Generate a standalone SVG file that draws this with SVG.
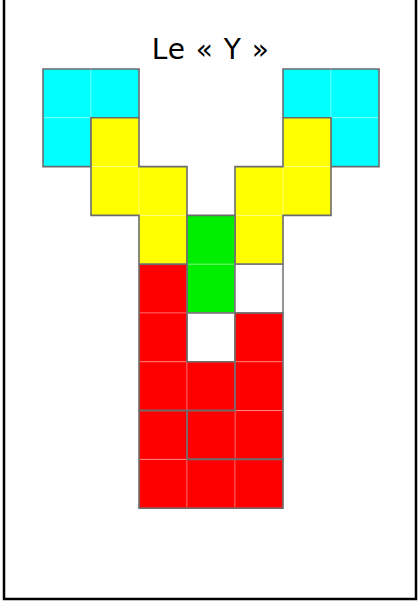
<svg xmlns="http://www.w3.org/2000/svg" width="418" height="601" viewBox="0 0 418 601">
<style>
.cell{stroke:#ffffff;stroke-opacity:0.3;stroke-width:1}
.outline{fill:none;stroke:#6b6b6b;stroke-width:1.6;stroke-linejoin:miter}
.cyan{fill:#00ffff}
.yellow{fill:#ffff00}
.green{fill:#00ee00}
.red{fill:#ff0000}
.empty{fill:#ffffff;stroke:#7a7a7a;stroke-width:1.6}
.title{font-family:"DejaVu Sans","Liberation Sans",sans-serif;font-size:28px;fill:#000}
</style>
<rect x="0" y="0" width="418" height="601" fill="#ffffff"/>
<path d="M4,0 V599 H416 V0" fill="none" stroke="#000" stroke-width="2.5"/>
<text class="title" x="210.3" y="59.3" text-anchor="middle" textLength="117" lengthAdjust="spacing">Le « Y »</text>

<g id="cyan-left">
<rect class="cell cyan" x="43" y="69" width="48" height="48.8"/>
<rect class="cell cyan" x="91" y="69" width="48" height="48.8"/>
<rect class="cell cyan" x="43" y="117.8" width="48" height="48.8"/>
<path class="outline" d="M43,69 H139 V117.8 H91 V166.6 H43 Z"/>
</g>
<g id="cyan-right">
<rect class="cell cyan" x="283" y="69" width="48" height="48.8"/>
<rect class="cell cyan" x="331" y="69" width="48" height="48.8"/>
<rect class="cell cyan" x="331" y="117.8" width="48" height="48.8"/>
<path class="outline" d="M283,69 H379 V166.6 H331 V117.8 H283 Z"/>
</g>
<g id="yellow-left">
<rect class="cell yellow" x="91" y="117.8" width="48" height="48.8"/>
<rect class="cell yellow" x="91" y="166.6" width="48" height="48.8"/>
<rect class="cell yellow" x="139" y="166.6" width="48" height="48.8"/>
<rect class="cell yellow" x="139" y="215.4" width="48" height="48.8"/>
<path class="outline" d="M91,117.8 H139 V166.6 H187 V264.2 H139 V215.4 H91 Z"/>
</g>
<g id="yellow-right">
<rect class="cell yellow" x="283" y="117.8" width="48" height="48.8"/>
<rect class="cell yellow" x="283" y="166.6" width="48" height="48.8"/>
<rect class="cell yellow" x="235" y="166.6" width="48" height="48.8"/>
<rect class="cell yellow" x="235" y="215.4" width="48" height="48.8"/>
<path class="outline" d="M283,117.8 H331 V215.4 H283 V264.2 H235 V166.6 H283 Z"/>
</g>
<g id="green">
<rect class="cell green" x="187" y="215.4" width="48" height="48.8"/>
<rect class="cell green" x="187" y="264.2" width="48" height="48.8"/>
<path class="outline" d="M187,215.4 H235 V313 H187 Z"/>
</g>
<g id="empty-1">
<rect class="empty" x="235" y="264.2" width="48" height="48.8"/>
</g>
<g id="empty-2">
<rect class="empty" x="187" y="313" width="48" height="48.8"/>
</g>
<g id="red-a">
<rect class="cell red" x="139" y="264.2" width="48" height="48.8"/>
<rect class="cell red" x="139" y="313" width="48" height="48.8"/>
<rect class="cell red" x="139" y="361.8" width="48" height="48.8"/>
<rect class="cell red" x="187" y="361.8" width="48" height="48.8"/>
<path class="outline" d="M139,264.2 H187 V361.8 H235 V410.6 H139 Z"/>
</g>
<g id="red-b">
<rect class="cell red" x="235" y="313" width="48" height="48.8"/>
<rect class="cell red" x="235" y="361.8" width="48" height="48.8"/>
<rect class="cell red" x="235" y="410.6" width="48" height="48.8"/>
<rect class="cell red" x="187" y="410.6" width="48" height="48.8"/>
<path class="outline" d="M235,313 H283 V459.4 H187 V410.6 H235 Z"/>
</g>
<g id="red-c">
<rect class="cell red" x="139" y="410.6" width="48" height="48.8"/>
<rect class="cell red" x="139" y="459.4" width="48" height="48.8"/>
<rect class="cell red" x="187" y="459.4" width="48" height="48.8"/>
<rect class="cell red" x="235" y="459.4" width="48" height="48.8"/>
<path class="outline" d="M139,410.6 H187 V459.4 H283 V508.2 H139 Z"/>
</g>
<g id="connectors"></g>
</svg>
